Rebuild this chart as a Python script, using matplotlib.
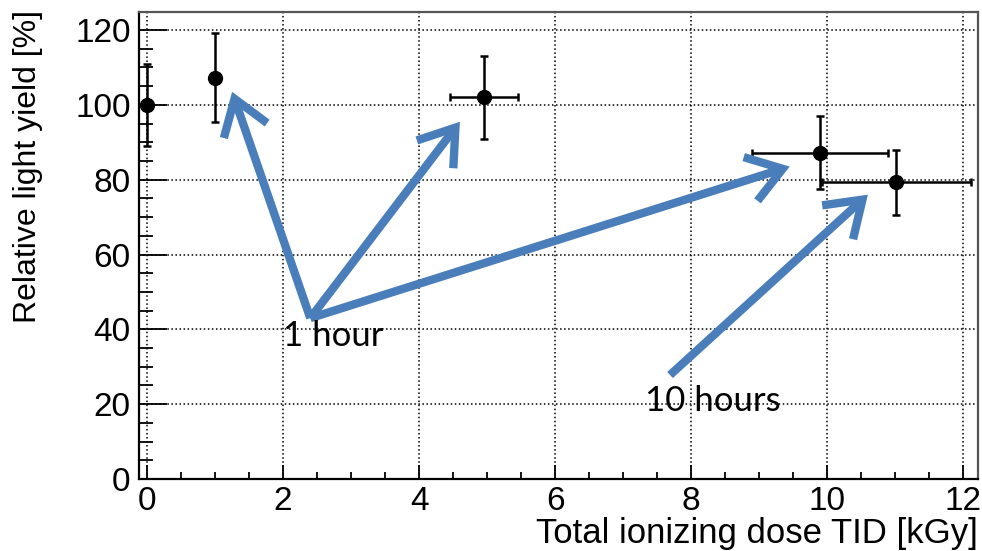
import numpy as np
import matplotlib
matplotlib.use('Agg')
import matplotlib.pyplot as plt
from matplotlib.patches import FancyArrowPatch
from matplotlib.ticker import MultipleLocator

# data
dose = [0.0, 1.0, 4.95, 9.9, 11.02]
dose_err = [0.0, 0.0, 0.5, 1.0, 1.1]
light_yield = [100.0, 107.3, 102.0, 87.2, 79.3]
yield_err = [11.0, 11.8, 11.1, 9.7, 8.7]

# annotation arrows (start, end) in data units
arrows_1h = [((2.40, 43.0), (1.25, 103.5)),
             ((2.40, 43.0), (4.60, 95.5)),
             ((2.40, 43.0), (9.45, 83.5))]
arrows_10h = [((7.69, 27.8), (10.6, 76.0))]

fig = plt.figure(figsize=(9.82, 5.51), dpi=100)
ax = fig.add_axes([0.1415, 0.1307, 0.8545, 0.8473])

ax.errorbar(dose, light_yield, xerr=dose_err, yerr=yield_err, fmt='o', color='black',
            markersize=10, elinewidth=1.8, capsize=3, capthick=1.8, zorder=3)

ax.set_xlim(-0.12, 12.22)
ax.set_ylim(0, 124.8)
ax.xaxis.set_major_locator(MultipleLocator(2))
ax.xaxis.set_minor_locator(MultipleLocator(0.5))
ax.yaxis.set_major_locator(MultipleLocator(20))
ax.yaxis.set_minor_locator(MultipleLocator(5))
ax.grid(True, which='major', linestyle=':', color='black', linewidth=1.1)
ax.tick_params(axis='x', which='major', direction='in', length=10, width=1.3, labelsize=24, pad=5, top=False)
ax.tick_params(axis='x', which='minor', direction='in', length=5, width=1.3, top=False)
ax.tick_params(axis='y', which='major', direction='in', length=20, width=1.3, labelsize=24, pad=6, right=False)
ax.tick_params(axis='y', which='minor', direction='in', length=10, width=1.3, right=False)
for lab in ax.get_xticklabels() + ax.get_yticklabels():
  lab.set_fontfamily('Liberation Sans')
for s in ['left', 'bottom']:
  ax.spines[s].set_linewidth(1.6)
for s in ['top', 'right']:
  ax.spines[s].set_linewidth(1.6)
  ax.spines[s].set_color('#555555')

ax.set_xlabel('Total ionizing dose TID [kGy]', fontsize=25, family='Liberation Sans', loc='right', labelpad=0)
ax.set_ylabel('Relative light yield [%]', fontsize=23, family='Liberation Sans')
ax.yaxis.set_label_coords(-0.114, 0.67)

blue = '#4a7ebb'
for (p0, p1) in arrows_1h + arrows_10h:
  a = FancyArrowPatch(p0, p1, arrowstyle='->,head_length=1.1,head_width=0.75', mutation_scale=22,
                      color=blue, linewidth=6, capstyle='butt', joinstyle='miter', zorder=4,
                      shrinkA=0, shrinkB=0)
  ax.add_patch(a)

ax.text(2.0, 38.2, '1 hour', fontsize=25, family='Lato', va='center', ha='left', zorder=5)
ax.text(7.32, 20.8, '10 hours', fontsize=25, family='Lato', va='center', ha='left', zorder=5)

fig.savefig('out.png', dpi=100)
